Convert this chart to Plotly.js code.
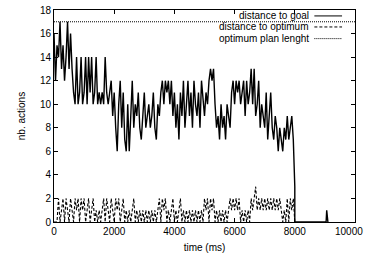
<!DOCTYPE html>
<html>
<head>
<meta charset="utf-8">
<script src="https://cdn.plot.ly/plotly-3.0.1.min.js"></script>
<style>html,body{margin:0;padding:0;background:#fff;}#chart{width:366px;height:259px;}</style>
</head>
<body>
<div id="chart"></div>
<script>
// time samples (ms)
const times = [0,50,100,150,200,250,300,350,400,450,500,550,600,650,700,750,800,850,900,950,
1000,1050,1100,1150,1200,1250,1300,1350,1400,1450,1500,1550,1600,1650,1700,1750,1800,1850,1900,1950,
2000,2050,2100,2150,2200,2250,2300,2350,2400,2450,2500,2550,2600,2650,2700,2750,2800,2850,2900,2950,
3000,3050,3100,3150,3200,3250,3300,3350,3400,3450,3500,3550,3600,3650,3700,3750,3800,3850,3900,3950,
4000,4050,4100,4150,4200,4250,4300,4350,4400,4450,4500,4550,4600,4650,4700,4750,4800,4850,4900,4950,
5000,5050,5100,5150,5200,5250,5300,5350,5400,5450,5500,5550,5600,5650,5700,5750,5800,5850,5900,5950,
6000,6050,6100,6150,6200,6250,6300,6350,6400,6450,6500,6550,6600,6650,6700,6750,6800,6850,6900,6950,
7000,7050,7100,7150,7200,7250,7300,7350,7400,7450,7500,7550,7600,7650,7700,7750,7800,7850,7900,7950,
8000];

// distance to goal
const goalValues = [16,12,15,14,17,13,15,12,14,17,13,16,13,11,10,14,10,11,14,10,
11,14,10,14,11,14,10,11,14,10,11,10,11,10,14,11,10,11,12,9,
11,8,6,10,12,8,11,7,6,10,6,9,12,8,10,9,11,8,7,9,
11,8,9,10,8,9,11,8,7,10,9,11,12,10,12,11,12,10,12,9,
11,8,10,7,11,9,12,8,10,12,9,11,8,12,10,9,11,8,12,10,
9,11,10,12,13,12,13,10,8,9,7,10,8,9,7,10,9,8,11,12,
10,12,11,12,10,11,12,9,12,10,11,13,10,13,9,10,12,8,10,9,
8,11,7,9,11,8,7,9,8,6,8,7,6,8,7,9,7,8,9,7,
3];
// end of run: goal reached
const goalTailTimes = [8000, 9040, 9060, 9080, 9100];
const goalTailValues = [0, 0, 1, 0, 0];

// distance to optimum
const optimumValues = [0,0,0,2,0,1,2,0,2,1,0,2,1,0,2,1,2,0,2,1,
2,0,1,2,0,1,2,0,1,0,1,0,1,2,0,2,1,0,2,1,
0,2,1,2,0,1,2,0,1,0,1,0,1,2,0,1,0,1,0,1,
0,1,0,1,0,1,0,1,0,1,2,0,2,1,2,0,1,0,1,2,
0,1,0,1,2,0,1,0,1,0,1,0,1,0,1,0,1,0,1,0,
2,1,2,0,2,1,2,0,1,0,1,0,1,0,1,0,1,2,1,2,
1,2,1,2,0,1,0,1,0,1,0,2,1,2,3,1,2,1,2,1,
2,1,2,1,2,1,2,1,2,1,2,1,0,1,0,2,0,2,1,2,
0];

// optimum plan length
const planTimes = [0, 10000];
const planValues = [17, 17];

const seriesNames = ['distance to goal', 'distance to optimum', 'optimum plan lenght'];
const xTickValues = [0, 2000, 4000, 6000, 8000];
const xLastTick = 10000;
const yTickValues = [0, 2, 4, 6, 8, 10, 12, 14, 16, 18];

const FONT = '"Liberation Sans", Arial, Helvetica, sans-serif';

const traces = [
  {x: times.concat(goalTailTimes), y: goalValues.concat(goalTailValues), type: 'scatter', mode: 'lines',
   name: seriesNames[0], line: {color: '#000', width: 1.4}},
  {x: times, y: optimumValues, type: 'scatter', mode: 'lines',
   name: seriesNames[1], line: {color: '#000', width: 1.1, dash: '3px,2px'}},
  {x: planTimes, y: planValues, type: 'scatter', mode: 'lines',
   name: seriesNames[2], line: {color: '#000', width: 1, dash: '1px,1px'}}
];

// legend drawn gnuplot-style: right-aligned text, sample line to the right
const legRows = [0.972, 0.92, 0.865];
const legDash = ['solid', '3px,2px', '1px,1px'];
const annotations = seriesNames.map((n, i) => ({
  xref: 'paper', yref: 'paper', x: 0.855, y: legRows[i], xanchor: 'right', yanchor: 'middle',
  text: n, showarrow: false, font: {family: FONT, size: 10, color: '#000'}
}));
// last x tick label, nudged so it stays inside the page
annotations.push({
  xref: 'x', yref: 'paper', x: xLastTick, y: 0, xanchor: 'right', yanchor: 'top', yshift: -2, xshift: 10,
  text: String(xLastTick), showarrow: false, font: {family: FONT, size: 10, color: '#000'}
});
const shapes = seriesNames.map((n, i) => ({
  type: 'line', xref: 'paper', yref: 'paper', x0: 0.865, x1: 0.957, y0: legRows[i], y1: legRows[i],
  line: {color: '#000', width: 1, dash: legDash[i]}
}));

const axisCommon = {
  showline: true, linecolor: '#000', linewidth: 1, mirror: 'allticks',
  ticks: 'inside', ticklen: 4, tickcolor: '#000', tickwidth: 1,
  showgrid: false, zeroline: false,
  tickfont: {family: FONT, size: 10, color: '#000'}
};

const layout = {
  width: 366, height: 259,
  margin: {l: 54, r: 11, t: 10, b: 37},
  paper_bgcolor: '#fff', plot_bgcolor: '#fff',
  showlegend: false,
  font: {family: FONT, size: 10, color: '#000'},
  xaxis: Object.assign({}, axisCommon, {
    range: [0, 10000], tickvals: xTickValues.concat([xLastTick]), ticktext: xTickValues.map(String).concat(['']),
    title: {text: 'time (ms)', font: {family: FONT, size: 10, color: '#000'}, standoff: 7}
  }),
  yaxis: Object.assign({}, axisCommon, {
    range: [0, 18], tickvals: yTickValues, ticktext: yTickValues.map(String),
    title: {text: 'nb. actions', font: {family: FONT, size: 10, color: '#000'}, standoff: 12}
  }),
  annotations: annotations,
  shapes: shapes
};

Plotly.newPlot('chart', traces, layout, {staticPlot: true, displayModeBar: false});
</script>
</body>
</html>
